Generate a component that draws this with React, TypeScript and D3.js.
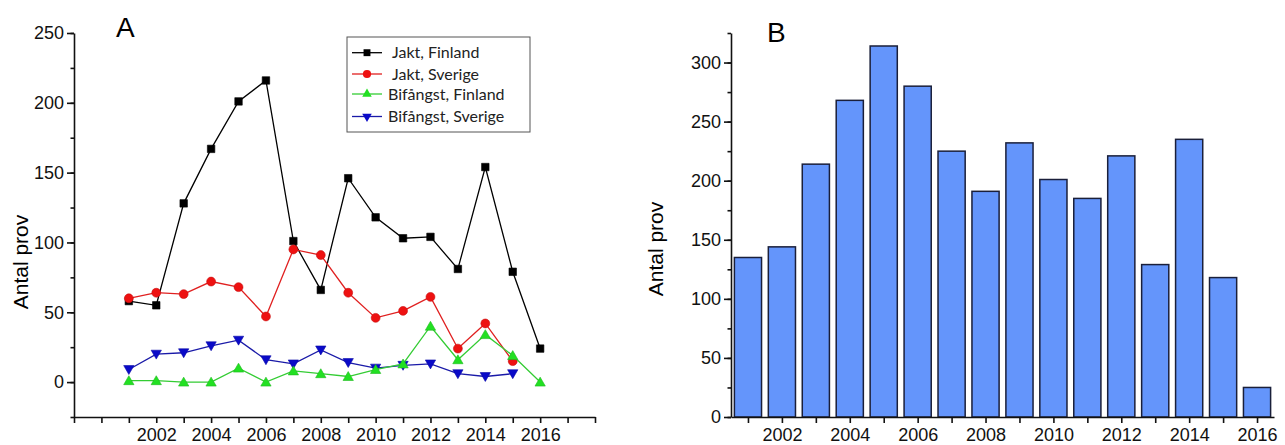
import * as d3 from 'd3';
import { useEffect, useRef } from 'react';

// sample years (2001–2016)
const years = [2001, 2002, 2003, 2004, 2005, 2006, 2007, 2008, 2009, 2010, 2011, 2012, 2013, 2014, 2015, 2016];

// Panel A series
const jaktFinland = [58, 55, 128, 167, 201, 216, 101, 66, 146, 118, 103, 104, 81, 154, 79, 24];
const jaktSverige = [60, 64, 63, 72, 68, 47, 95, 91, 64, 46, 51, 61, 24, 42, 15];
const bifangstFinland = [1, 1, 0, 0, 10, 0, 8, 6, 4, 9, 13, 40, 16, 34, 19, 0];
const bifangstSverige = [9, 20, 21, 26, 30, 16, 13, 23, 14, 10, 12, 13, 6, 4, 6];

// Panel B totals
const totalSamples = [135, 144, 214, 268, 314, 280, 225, 191, 232, 201, 185, 221, 129, 235, 118, 25];

const seriesNames = ['Jakt, Finland', 'Jakt, Sverige', 'Bifångst, Finland', 'Bifångst, Sverige'];
const yTicksA = [0, 50, 100, 150, 200, 250];
const yTicksB = [0, 50, 100, 150, 200, 250, 300];
const xLabelYears = [2002, 2004, 2006, 2008, 2010, 2012, 2014, 2016];

const FONT = '"Liberation Sans", Arial, sans-serif';

const App = () => {
  const ref = useRef<SVGSVGElement>(null);

  useEffect(() => {
    const svg = d3.select(ref.current);
    svg.selectAll('*').remove();

    // ---------- Panel A ----------
    const xA = d3.scaleLinear().domain([1999, 2018]).range([74, 595]);
    const yA = d3.scaleLinear().domain([-25, 250]).range([417, 33]);

    const gA = svg.append('g');

    // minor y ticks
    gA.append('g')
      .attr('transform', `translate(${xA(1999)},0)`)
      .call(d3.axisLeft(yA).tickValues(d3.range(-25, 251, 25)).tickSize(3.5).tickSizeOuter(0).tickFormat(() => ''));
    // major y ticks
    gA.append('g')
      .attr('transform', `translate(${xA(1999)},0)`)
      .call(d3.axisLeft(yA).tickValues(yTicksA).tickSize(7).tickPadding(3).tickSizeOuter(0))
      .call((g) => g.select('.domain').remove());
    // x ticks each year
    gA.append('g')
      .attr('transform', `translate(0,${yA(-25)})`)
      .call(d3.axisBottom(xA).tickValues(d3.range(1999, 2019, 1)).tickSize(6).tickSizeOuter(0).tickFormat(() => ''));
    gA.append('g')
      .attr('transform', `translate(0,${yA(-25)})`)
      .call(d3.axisBottom(xA).tickValues(xLabelYears).tickSize(0).tickPadding(11).tickFormat(d3.format('d')))
      .call((g) => g.select('.domain').remove());

    const seriesA = [
      { values: jaktFinland, color: '#000000', fill: '#000000', symbol: d3.symbolSquare, size: 56, rotate: 0 },
      { values: jaktSverige, color: '#e02020', fill: '#ee1111', symbol: d3.symbolCircle, size: 62, rotate: 0 },
      { values: bifangstSverige, color: '#1a1aa8', fill: '#0a0ac8', symbol: d3.symbolTriangle, size: 46, rotate: 180 },
      { values: bifangstFinland, color: '#33cc33', fill: '#22e022', symbol: d3.symbolTriangle, size: 46, rotate: 0 },
    ];

    seriesA.forEach((s) => {
      const pts = s.values.map((v, i) => [years[i], v] as [number, number]);
      const line = d3.line<[number, number]>().x((d) => xA(d[0])).y((d) => yA(d[1]));
      gA.append('path')
        .datum(pts)
        .attr('d', line)
        .attr('fill', 'none')
        .attr('stroke', s.color)
        .attr('stroke-width', 1.3);
      gA.selectAll(null)
        .data(pts)
        .enter()
        .append('path')
        .attr('d', d3.symbol().type(s.symbol).size(s.size)())
        .attr('transform', (d) => `translate(${xA(d[0])},${yA(d[1]) + (s.symbol === d3.symbolTriangle ? (s.rotate ? -1 : 1) : 0)}) rotate(${s.rotate})`)
        .attr('fill', s.fill)
        .attr('stroke', s.color === '#000000' ? '#000' : d3.color(s.fill)!.darker(0.5).toString())
        .attr('stroke-width', 0.6);
    });

    // legend
    const legend = gA.append('g');
    legend.append('rect')
      .attr('x', 347).attr('y', 37).attr('width', 183).attr('height', 95)
      .attr('fill', '#fff').attr('stroke', '#555').attr('stroke-width', 1);
    const legendStyle = [seriesA[0], seriesA[1], seriesA[3], seriesA[2]];
    const rowY = [52.7, 74, 94, 116.5];
    const textX = [392, 392, 388, 388];
    seriesNames.forEach((name, i) => {
      const s = legendStyle[i];
      legend.append('line')
        .attr('x1', 352).attr('x2', 382).attr('y1', rowY[i]).attr('y2', rowY[i])
        .attr('stroke', s.color).attr('stroke-width', 1.3);
      legend.append('path')
        .attr('d', d3.symbol().type(s.symbol).size(s.size * 0.85)())
        .attr('transform', `translate(367,${rowY[i]}) rotate(${s.rotate})`)
        .attr('fill', s.fill);
      legend.append('text')
        .attr('x', textX[i]).attr('y', rowY[i]).attr('dy', '0.35em')
        .attr('font-family', 'Lato, "Open Sans", sans-serif').attr('font-size', 16)
        .attr('fill', '#222')
        .text(name);
    });

    gA.append('text').attr('x', 116).attr('y', 37).attr('font-size', 28).attr('font-family', FONT).text('A');
    gA.append('text')
      .attr('transform', 'translate(28,262) rotate(-90)')
      .attr('text-anchor', 'middle')
      .attr('font-size', 21).attr('font-family', FONT)
      .text('Antal prov');

    // ---------- Panel B ----------
    const xB = d3.scaleLinear().domain([2000.5, 2016.5]).range([731, 1274]);
    const yB = d3.scaleLinear().domain([0, 325]).range([417, 33]);
    const gB = svg.append('g');
    const bw = (xB(2001) - xB(2000)) * 0.8;

    gB.selectAll('rect.bar')
      .data(totalSamples)
      .enter()
      .append('rect')
      .attr('class', 'bar')
      .attr('x', (d, i) => xB(years[i]) - bw / 2)
      .attr('y', (d) => yB(d))
      .attr('width', bw)
      .attr('height', (d) => yB(0) - yB(d))
      .attr('fill', '#6495fb')
      .attr('stroke', '#1a1f3a')
      .attr('stroke-width', 1.5);

    gB.append('g')
      .attr('transform', `translate(${xB(2000.5)},0)`)
      .call(d3.axisLeft(yB).tickValues(d3.range(0, 326, 25)).tickSize(3.5).tickSizeOuter(0).tickFormat(() => ''));
    gB.append('g')
      .attr('transform', `translate(${xB(2000.5)},0)`)
      .call(d3.axisLeft(yB).tickValues(yTicksB).tickSize(7).tickPadding(3).tickSizeOuter(0))
      .call((g) => g.select('.domain').remove());
    gB.append('g')
      .attr('transform', `translate(0,${yB(0)})`)
      .call(d3.axisBottom(xB).tickValues(years).tickSize(6).tickSizeOuter(0).tickFormat(() => ''));
    gB.append('g')
      .attr('transform', `translate(0,${yB(0)})`)
      .call(d3.axisBottom(xB).tickValues(xLabelYears).tickSize(0).tickPadding(11).tickFormat(d3.format('d')))
      .call((g) => g.select('.domain').remove());

    gB.append('text').attr('x', 767).attr('y', 41.5).attr('font-size', 28).attr('font-family', FONT).text('B');
    gB.append('text')
      .attr('transform', 'translate(663,249) rotate(-90)')
      .attr('text-anchor', 'middle')
      .attr('font-size', 21).attr('font-family', FONT)
      .text('Antal prov');

    // shared axis styling
    svg.selectAll('.tick text').attr('font-size', 18).attr('font-family', FONT).attr('fill', '#111');
    svg.selectAll('.domain, .tick line').attr('stroke', '#111').attr('stroke-width', 1.6);
  }, []);

  return (
    <svg
      ref={ref}
      width={1285}
      height={445}
      style={{ position: 'absolute', left: 0, top: 0, background: '#fff' }}
    />
  );
};

export default App;
